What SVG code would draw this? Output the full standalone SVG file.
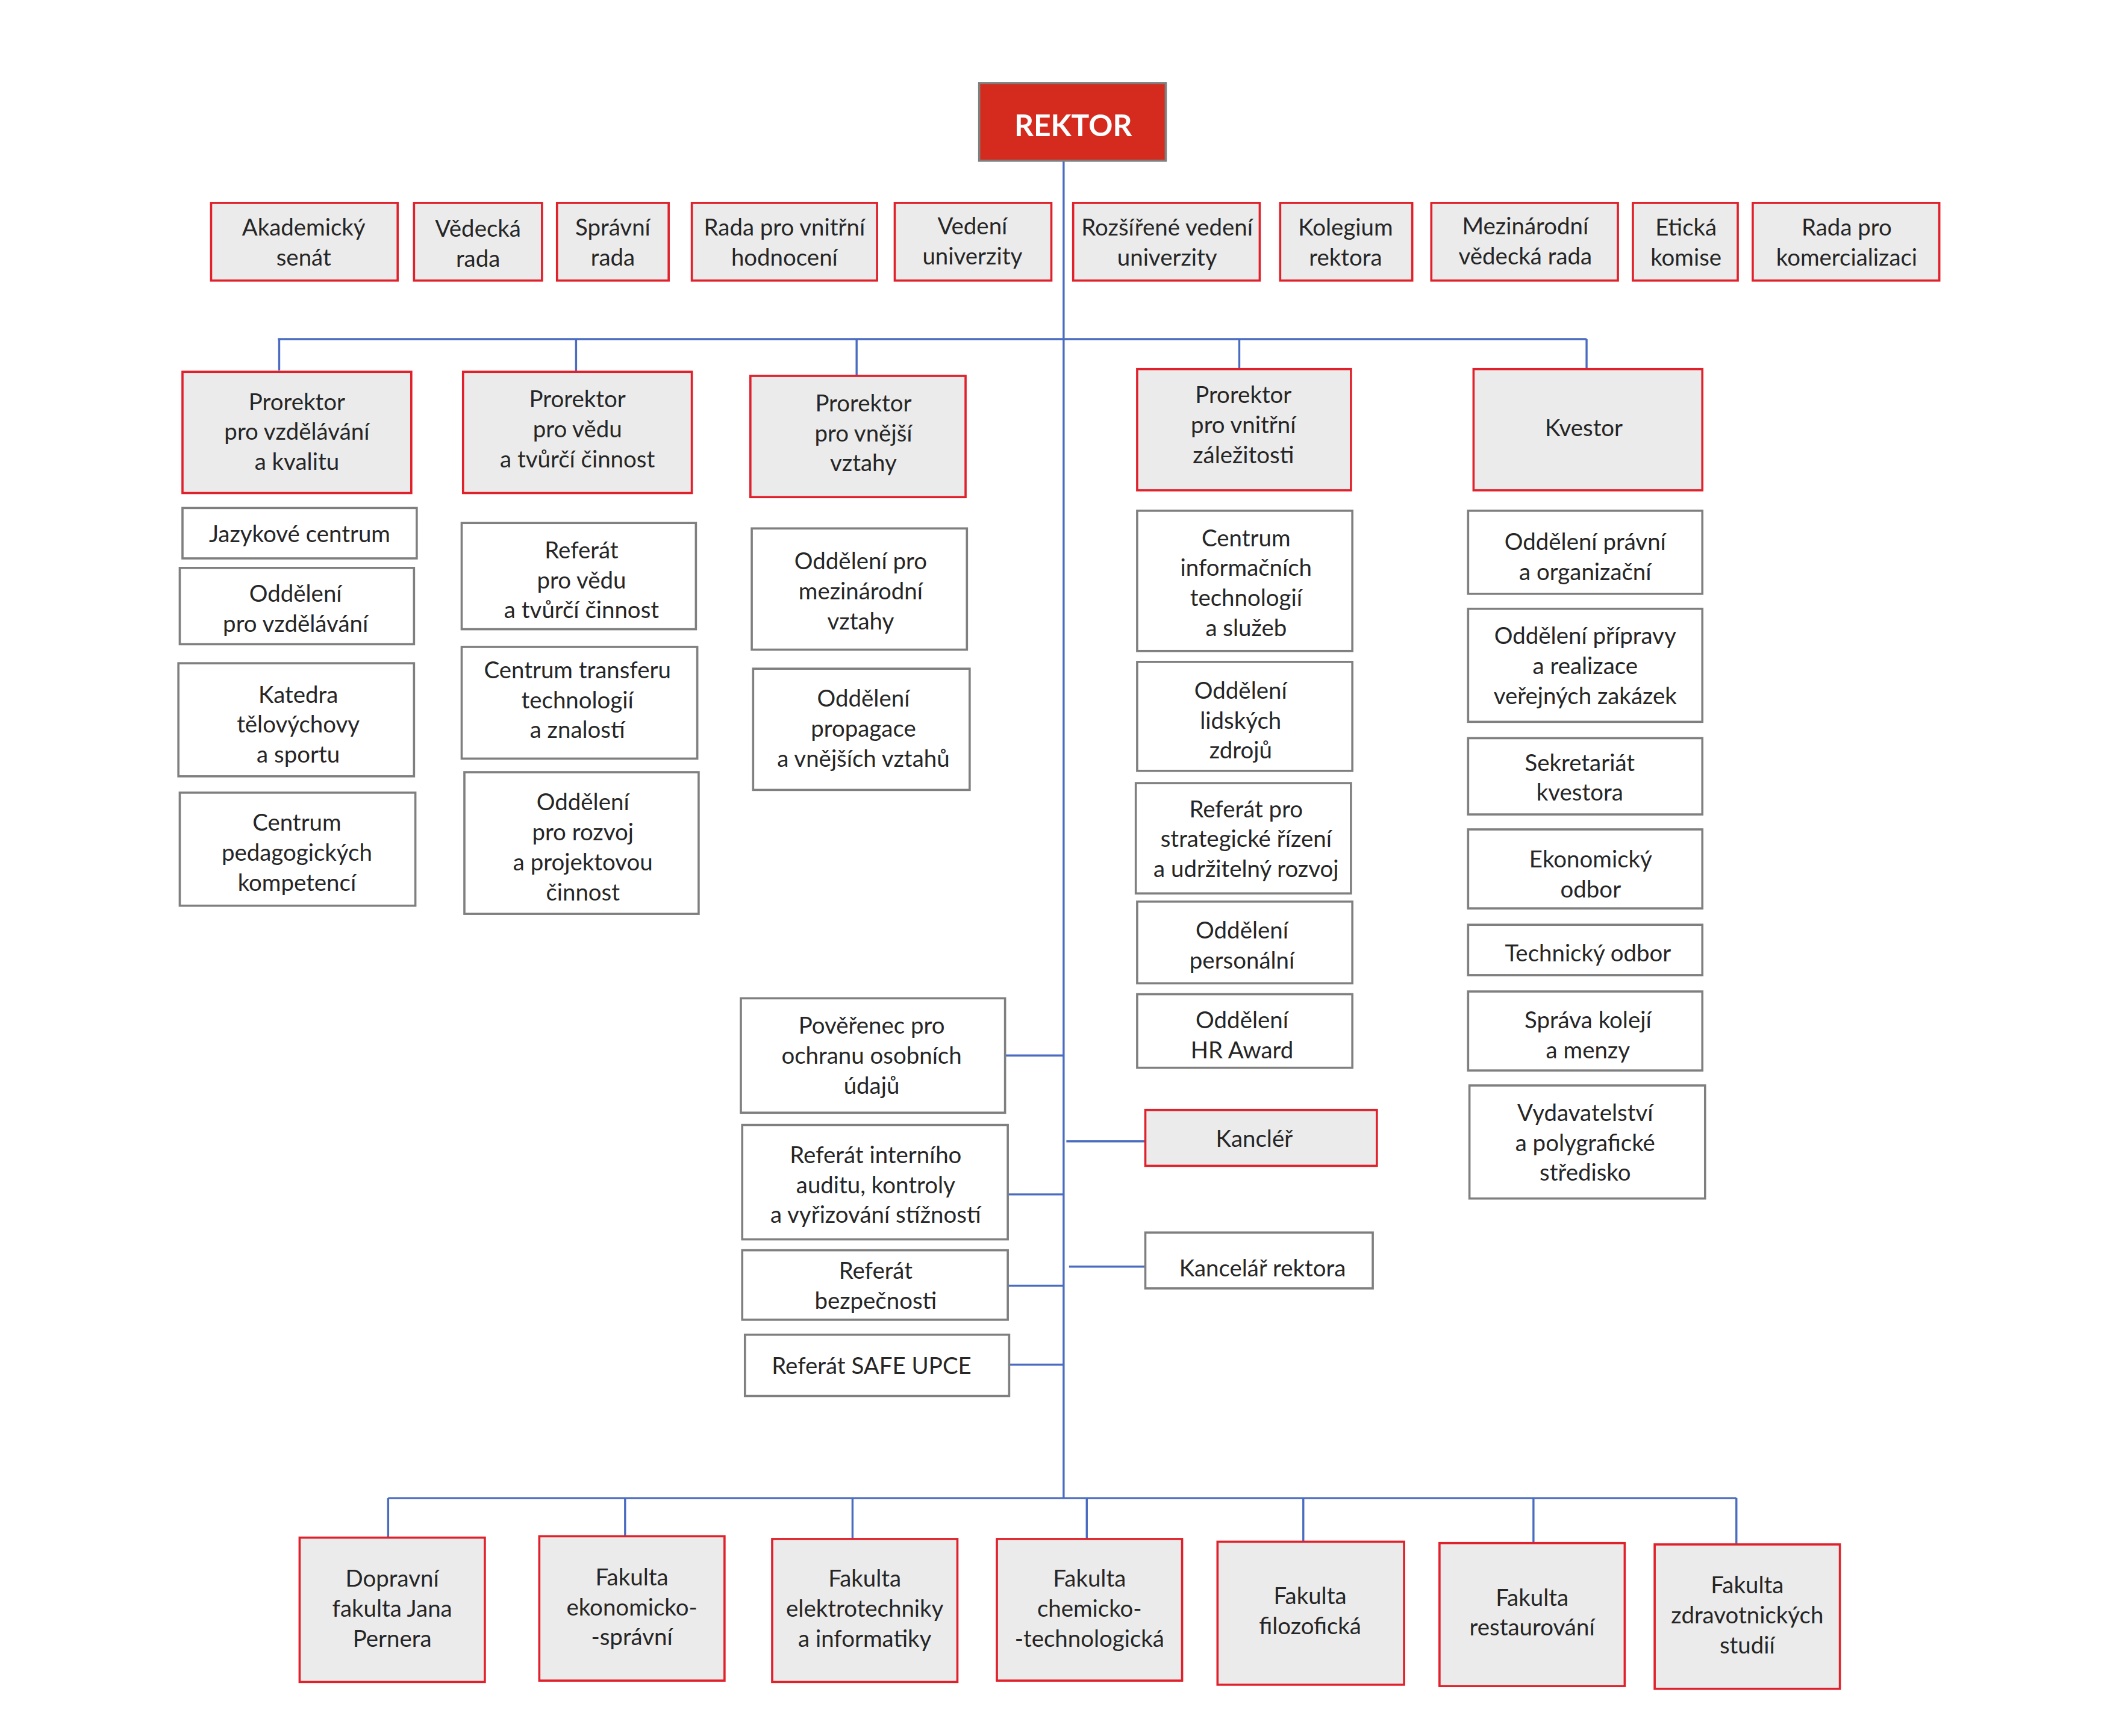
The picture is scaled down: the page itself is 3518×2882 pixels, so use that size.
<svg xmlns="http://www.w3.org/2000/svg" width="3518" height="2882" viewBox="0 0 3518 2882">
<style>
.r{fill:#ebebeb;stroke:#e0202a;stroke-width:1.6}
.w{fill:#fff;stroke:#7f7f7f;stroke-width:1.6}
text{font-family:Lato,"Open Sans",sans-serif;font-size:17px;fill:#262626;text-anchor:middle}
.c{stroke:#4a6cc0;stroke-width:1.5;fill:none}
</style>
<rect width="3518" height="2882" fill="#fff"/>
<g transform="scale(2.261)">
<g id="connectors">
<path class="c" d="M781 118V1100M204 249H1165M205 249V272M423 249V273M629 249V276M910 249V271M1165 249V271M738 775H781M740 877H781M740 944H781M741 1002H781M783 838H841M785 930H841M285 1100H1275M285 1100V1129M459 1100V1128M626 1100V1130M798 1100V1130M957 1100V1132M1126 1100V1133M1275 1100V1134"/>
</g>
<g id="rektor"><rect x="719" y="61" width="137" height="57" fill="#d42b1e" stroke="#7f7f7f" stroke-width="1.6"/><text x="788" y="100" style="fill:#fff;font-weight:bold;font-size:22px">REKTOR</text></g>
<g id="n1"><rect class="r" x="155" y="149" width="137" height="57"/><text x="223" y="173">Akademický</text><text x="223" y="195">senát</text></g>
<g id="n2"><rect class="r" x="304" y="149" width="94" height="57"/><text x="351" y="174">Vědecká</text><text x="351" y="196">rada</text></g>
<g id="n3"><rect class="r" x="409" y="149" width="82" height="57"/><text x="450" y="173">Správní</text><text x="450" y="195">rada</text></g>
<g id="n4"><rect class="r" x="508" y="149" width="136" height="57"/><text x="576" y="173">Rada pro vnitřní</text><text x="576" y="195">hodnocení</text></g>
<g id="n5"><rect class="r" x="657" y="149" width="115" height="57"/><text x="714" y="172">Vedení</text><text x="714" y="194">univerzity</text></g>
<g id="n6"><rect class="r" x="788" y="149" width="137" height="57"/><text x="857" y="173">Rozšířené vedení</text><text x="857" y="195">univerzity</text></g>
<g id="n7"><rect class="r" x="940" y="149" width="97" height="57"/><text x="988" y="173">Kolegium</text><text x="988" y="195">rektora</text></g>
<g id="n8"><rect class="r" x="1051" y="149" width="137" height="57"/><text x="1120" y="172">Mezinárodní</text><text x="1120" y="194">vědecká rada</text></g>
<g id="n9"><rect class="r" x="1199" y="149" width="77" height="57"/><text x="1238" y="173">Etická</text><text x="1238" y="195">komise</text></g>
<g id="n10"><rect class="r" x="1287" y="149" width="137" height="57"/><text x="1356" y="173">Rada pro</text><text x="1356" y="195">komercializaci</text></g>

<g id="p1"><rect class="r" x="134" y="273" width="168" height="89"/><text x="218" y="301">Prorektor</text><text x="218" y="323">pro vzdělávání</text><text x="218" y="345">a kvalitu</text></g>
<g id="p2"><rect class="r" x="340" y="273" width="168" height="89"/><text x="424" y="299">Prorektor</text><text x="424" y="321">pro vědu</text><text x="424" y="343">a tvůrčí činnost</text></g>
<g id="p3"><rect class="r" x="551" y="276" width="158" height="89"/><text x="634" y="302">Prorektor</text><text x="634" y="324">pro vnější</text><text x="634" y="346">vztahy</text></g>
<g id="p4"><rect class="r" x="835" y="271" width="157" height="89"/><text x="913" y="296">Prorektor</text><text x="913" y="318">pro vnitřní</text><text x="913" y="340">záležitosti</text></g>
<g id="kvestor"><rect class="r" x="1082" y="271" width="168" height="89"/><text x="1163" y="320">Kvestor</text></g>

<g id="c1a"><rect class="w" x="134" y="373" width="172" height="37"/><text x="220" y="398">Jazykové centrum</text></g>
<g id="c1b"><rect class="w" x="132" y="417" width="172" height="56"/><text x="217" y="442">Oddělení</text><text x="217" y="464">pro vzdělávání</text></g>
<g id="c1c"><rect class="w" x="131" y="487" width="173" height="83"/><text x="219" y="516">Katedra</text><text x="219" y="538">tělovýchovy</text><text x="219" y="560">a sportu</text></g>
<g id="c1d"><rect class="w" x="132" y="582" width="173" height="83"/><text x="218" y="610">Centrum</text><text x="218" y="632">pedagogických</text><text x="218" y="654">kompetencí</text></g>

<g id="c2a"><rect class="w" x="339" y="384" width="172" height="78"/><text x="427" y="410">Referát</text><text x="427" y="432">pro vědu</text><text x="427" y="454">a tvůrčí činnost</text></g>
<g id="c2b"><rect class="w" x="339" y="475" width="173" height="82"/><text x="424" y="498">Centrum transferu</text><text x="424" y="520">technologií</text><text x="424" y="542">a znalostí</text></g>
<g id="c2c"><rect class="w" x="341" y="567" width="172" height="104"/><text x="428" y="595">Oddělení</text><text x="428" y="617">pro rozvoj</text><text x="428" y="639">a projektovou</text><text x="428" y="661">činnost</text></g>

<g id="c3a"><rect class="w" x="552" y="388" width="158" height="89"/><text x="632" y="418">Oddělení pro</text><text x="632" y="440">mezinárodní</text><text x="632" y="462">vztahy</text></g>
<g id="c3b"><rect class="w" x="553" y="491" width="159" height="89"/><text x="634" y="519">Oddělení</text><text x="634" y="541">propagace</text><text x="634" y="563">a vnějších vztahů</text></g>

<g id="c4a"><rect class="w" x="835" y="375" width="158" height="103"/><text x="915" y="401">Centrum</text><text x="915" y="423">informačních</text><text x="915" y="445">technologií</text><text x="915" y="467">a služeb</text></g>
<g id="c4b"><rect class="w" x="835" y="486" width="158" height="80"/><text x="911" y="513">Oddělení</text><text x="911" y="535">lidských</text><text x="911" y="557">zdrojů</text></g>
<g id="c4c"><rect class="w" x="834" y="575" width="158" height="81"/><text x="915" y="600">Referát pro</text><text x="915" y="622">strategické řízení</text><text x="915" y="644">a udržitelný rozvoj</text></g>
<g id="c4d"><rect class="w" x="835" y="662" width="158" height="60"/><text x="912" y="689">Oddělení</text><text x="912" y="711">personální</text></g>
<g id="c4e"><rect class="w" x="835" y="730" width="158" height="54"/><text x="912" y="755">Oddělení</text><text x="912" y="777">HR Award</text></g>

<g id="c5a"><rect class="w" x="1078" y="375" width="172" height="61"/><text x="1164" y="404">Oddělení právní</text><text x="1164" y="426">a organizační</text></g>
<g id="c5b"><rect class="w" x="1078" y="447" width="172" height="83"/><text x="1164" y="473">Oddělení přípravy</text><text x="1164" y="495">a realizace</text><text x="1164" y="517">veřejných zakázek</text></g>
<g id="c5c"><rect class="w" x="1078" y="542" width="172" height="56"/><text x="1160" y="566">Sekretariát</text><text x="1160" y="588">kvestora</text></g>
<g id="c5d"><rect class="w" x="1078" y="609" width="172" height="58"/><text x="1168" y="637">Ekonomický</text><text x="1168" y="659">odbor</text></g>
<g id="c5e"><rect class="w" x="1078" y="679" width="172" height="37"/><text x="1166" y="706">Technický odbor</text></g>
<g id="c5f"><rect class="w" x="1078" y="728" width="172" height="58"/><text x="1166" y="755">Správa kolejí</text><text x="1166" y="777">a menzy</text></g>
<g id="c5g"><rect class="w" x="1079" y="797" width="173" height="83"/><text x="1164" y="823">Vydavatelství</text><text x="1164" y="845">a polygrafické</text><text x="1164" y="867">středisko</text></g>

<g id="m1"><rect class="w" x="544" y="733" width="194" height="84"/><text x="640" y="759">Pověřenec pro</text><text x="640" y="781">ochranu osobních</text><text x="640" y="803">údajů</text></g>
<g id="m2"><rect class="w" x="545" y="826" width="195" height="84"/><text x="643" y="854">Referát interního</text><text x="643" y="876">auditu, kontroly</text><text x="643" y="898">a vyřizování stížností</text></g>
<g id="m3"><rect class="w" x="545" y="918" width="195" height="51"/><text x="643" y="939">Referát</text><text x="643" y="961">bezpečnosti</text></g>
<g id="m4"><rect class="w" x="547" y="980" width="194" height="45"/><text x="640" y="1009">Referát SAFE UPCE</text></g>
<g id="kancler"><rect class="r" x="841" y="815" width="170" height="41"/><text x="921" y="842">Kancléř</text></g>
<g id="kancelar"><rect class="w" x="841" y="905" width="167" height="41"/><text x="927" y="937">Kancelář rektora</text></g>

<g id="f1"><rect class="r" x="220" y="1129" width="136" height="106"/><text x="288" y="1165">Dopravní</text><text x="288" y="1187">fakulta Jana</text><text x="288" y="1209">Pernera</text></g>
<g id="f2"><rect class="r" x="396" y="1128" width="136" height="106"/><text x="464" y="1164">Fakulta</text><text x="464" y="1186">ekonomicko-</text><text x="464" y="1208">-správní</text></g>
<g id="f3"><rect class="r" x="567" y="1130" width="136" height="105"/><text x="635" y="1165">Fakulta</text><text x="635" y="1187">elektrotechniky</text><text x="635" y="1209">a informatiky</text></g>
<g id="f4"><rect class="r" x="732" y="1130" width="136" height="104"/><text x="800" y="1165">Fakulta</text><text x="800" y="1187">chemicko-</text><text x="800" y="1209">-technologická</text></g>
<g id="f5"><rect class="r" x="894" y="1132" width="137" height="105"/><text x="962" y="1178">Fakulta</text><text x="962" y="1200">filozofická</text></g>
<g id="f6"><rect class="r" x="1057" y="1133" width="136" height="105"/><text x="1125" y="1179">Fakulta</text><text x="1125" y="1201">restaurování</text></g>
<g id="f7"><rect class="r" x="1215" y="1134" width="136" height="106"/><text x="1283" y="1170">Fakulta</text><text x="1283" y="1192">zdravotnických</text><text x="1283" y="1214">studií</text></g>
</g>
</svg>
